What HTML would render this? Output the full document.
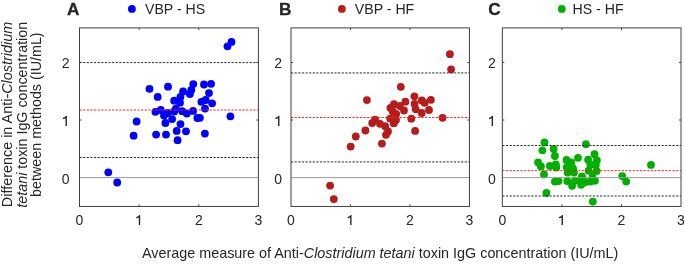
<!DOCTYPE html>
<html><head><meta charset="utf-8"><title>Bland-Altman</title>
<style>
html,body{margin:0;padding:0;background:#fff;}
body{width:685px;height:265px;overflow:hidden;}
svg{display:block;will-change:transform;}
text{font-family:"Liberation Sans",sans-serif;fill:#262626;}
</style></head><body>
<svg width="685" height="265" viewBox="0 0 685 265">
<rect width="685" height="265" fill="#fff"/>
<g font-size="14.2" text-anchor="middle">
<text transform="translate(12.1,114.5) rotate(-90)" textLength="185.35" lengthAdjust="spacingAndGlyphs">Difference in Anti-<tspan font-style="italic">Clostridium</tspan></text>
<text transform="translate(26.8,114.75) rotate(-90)" textLength="185.8" lengthAdjust="spacingAndGlyphs"><tspan font-style="italic">tetani</tspan> toxin IgG concentration</text>
<text transform="translate(41.2,114.65) rotate(-90)" textLength="164.55" lengthAdjust="spacingAndGlyphs">between methods (IU/mL)</text>
<text x="380.15" y="257.8" textLength="476.3" lengthAdjust="spacingAndGlyphs">Average measure of Anti-<tspan font-style="italic">Clostridium tetani</tspan> toxin IgG concentration (IU/mL)</text>
</g>
<g>
<text x="66.9" y="15.4" font-size="17.2" font-weight="bold" stroke="#262626" stroke-width="0.3">A</text>
<circle cx="131.9" cy="8.9" r="3.9" fill="#0000ff"/>
<text x="145.0" y="14.3" font-size="14.15">VBP - HS</text>
<g fill="#0000ff">
<circle cx="231.5" cy="41.9" r="3.9"/><circle cx="227.5" cy="46.3" r="3.9"/><circle cx="149.5" cy="88.8" r="3.9"/><circle cx="168.0" cy="86.7" r="3.9"/><circle cx="157.7" cy="96.9" r="3.9"/><circle cx="193.3" cy="84.1" r="3.9"/><circle cx="191.3" cy="90.0" r="3.9"/><circle cx="189.9" cy="94.0" r="3.9"/><circle cx="183.1" cy="91.4" r="3.9"/><circle cx="180.4" cy="97.0" r="3.9"/><circle cx="174.2" cy="100.7" r="3.9"/><circle cx="180.0" cy="102.7" r="3.9"/><circle cx="204.0" cy="84.5" r="3.9"/><circle cx="211.1" cy="83.8" r="3.9"/><circle cx="209.0" cy="93.1" r="3.9"/><circle cx="201.4" cy="101.8" r="3.9"/><circle cx="205.7" cy="100.0" r="3.9"/><circle cx="212.1" cy="103.3" r="3.9"/><circle cx="205.0" cy="108.6" r="3.9"/><circle cx="175.9" cy="108.6" r="3.9"/><circle cx="182.2" cy="111.2" r="3.9"/><circle cx="186.8" cy="113.5" r="3.9"/><circle cx="193.1" cy="110.9" r="3.9"/><circle cx="197.4" cy="118.0" r="3.9"/><circle cx="155.4" cy="111.8" r="3.9"/><circle cx="160.8" cy="110.0" r="3.9"/><circle cx="164.0" cy="115.5" r="3.9"/><circle cx="167.6" cy="113.0" r="3.9"/><circle cx="172.1" cy="119.1" r="3.9"/><circle cx="136.6" cy="121.5" r="3.9"/><circle cx="133.6" cy="135.7" r="3.9"/><circle cx="156.1" cy="134.6" r="3.9"/><circle cx="166.0" cy="134.6" r="3.9"/><circle cx="165.4" cy="123.0" r="3.9"/><circle cx="180.5" cy="124.1" r="3.9"/><circle cx="176.7" cy="130.9" r="3.9"/><circle cx="186.0" cy="131.3" r="3.9"/><circle cx="177.6" cy="140.2" r="3.9"/><circle cx="204.9" cy="133.6" r="3.9"/><circle cx="230.4" cy="116.3" r="3.9"/><circle cx="108.3" cy="172.3" r="3.9"/><circle cx="117.2" cy="182.5" r="3.9"/><circle cx="199.9" cy="117.8" r="3.9"/><circle cx="174.2" cy="111.4" r="3.9"/>
</g>
<line x1="79.50" x2="258.40" y1="177.60" y2="177.60" stroke="#9a9a9a" stroke-width="1"/>
<g stroke-width="1" stroke-dasharray="2.2 1.42" fill="none">
<line x1="79.50" x2="258.40" y1="62.60" y2="62.60" stroke="#2a2a2a"/>
<line x1="79.50" x2="258.40" y1="110.00" y2="110.00" stroke="#ff1e1e"/>
<line x1="79.50" x2="258.40" y1="157.50" y2="157.50" stroke="#2a2a2a"/>
</g>
<g stroke="#404040" stroke-width="1" fill="none">
<rect x="79.50" y="27.90" width="178.90" height="178.55"/>
<path d="M139.13 206.45v-2M139.13 27.90v2M198.77 206.45v-2M198.77 27.90v2M79.50 120.00h2M258.40 120.00h-2M79.50 62.40h2M258.40 62.40h-2"/>
</g>
<g font-size="14">
<text x="79.5" y="225.2" text-anchor="middle">0</text><path fill="#262626" d="M138.78 225.00h1.4v-10.1h-0.8q-0.8 1.5 -3.2 2.0v1.4q1.7 -0.3 2.6 -0.9z"/><text x="198.8" y="225.2" text-anchor="middle">2</text><text x="258.4" y="225.2" text-anchor="middle">3</text><text x="69.6" y="184.0" text-anchor="end">0</text><path fill="#262626" d="M65.50 125.95h1.4v-10.1h-0.8q-0.8 1.5 -3.2 2.0v1.4q1.7 -0.3 2.6 -0.9z"/><text x="69.6" y="68.2" text-anchor="end">2</text>
</g>
</g>
<g>
<text x="279.0" y="15.4" font-size="17.2" font-weight="bold" stroke="#262626" stroke-width="0.3">B</text>
<circle cx="341.9" cy="8.9" r="3.9" fill="#b71c1c"/>
<text x="354.8" y="14.3" font-size="14.15">VBP - HF</text>
<g fill="#b71c1c">
<circle cx="449.9" cy="54.2" r="3.9"/><circle cx="451.1" cy="69.3" r="3.9"/><circle cx="400.8" cy="86.8" r="3.9"/><circle cx="366.9" cy="100.1" r="3.9"/><circle cx="414.4" cy="96.3" r="3.9"/><circle cx="414.6" cy="104.0" r="3.9"/><circle cx="405.4" cy="101.7" r="3.9"/><circle cx="394.0" cy="104.2" r="3.9"/><circle cx="390.4" cy="107.8" r="3.9"/><circle cx="399.9" cy="106.0" r="3.9"/><circle cx="404.0" cy="110.5" r="3.9"/><circle cx="392.7" cy="111.4" r="3.9"/><circle cx="396.2" cy="113.8" r="3.9"/><circle cx="390.2" cy="118.6" r="3.9"/><circle cx="393.8" cy="123.3" r="3.9"/><circle cx="415.7" cy="109.3" r="3.9"/><circle cx="421.8" cy="100.4" r="3.9"/><circle cx="424.6" cy="102.8" r="3.9"/><circle cx="430.9" cy="99.8" r="3.9"/><circle cx="421.7" cy="113.0" r="3.9"/><circle cx="429.0" cy="110.0" r="3.9"/><circle cx="411.3" cy="118.7" r="3.9"/><circle cx="415.1" cy="130.9" r="3.9"/><circle cx="375.0" cy="119.7" r="3.9"/><circle cx="372.2" cy="123.1" r="3.9"/><circle cx="380.0" cy="123.8" r="3.9"/><circle cx="385.2" cy="126.2" r="3.9"/><circle cx="388.0" cy="131.5" r="3.9"/><circle cx="386.0" cy="134.8" r="3.9"/><circle cx="365.4" cy="130.5" r="3.9"/><circle cx="355.8" cy="136.5" r="3.9"/><circle cx="350.7" cy="146.6" r="3.9"/><circle cx="381.9" cy="143.6" r="3.9"/><circle cx="330.1" cy="185.6" r="3.9"/><circle cx="333.8" cy="199.1" r="3.9"/><circle cx="396.0" cy="120.0" r="3.9"/><circle cx="442.6" cy="117.8" r="3.9"/>
</g>
<line x1="291.00" x2="469.45" y1="177.60" y2="177.60" stroke="#9a9a9a" stroke-width="1"/>
<g stroke-width="1" stroke-dasharray="2.2 1.42" fill="none">
<line x1="291.00" x2="469.45" y1="72.95" y2="72.95" stroke="#2a2a2a"/>
<line x1="291.00" x2="469.45" y1="117.50" y2="117.50" stroke="#ff1e1e"/>
<line x1="291.00" x2="469.45" y1="161.95" y2="161.95" stroke="#2a2a2a"/>
</g>
<g stroke="#404040" stroke-width="1" fill="none">
<rect x="291.00" y="27.90" width="178.45" height="178.55"/>
<path d="M350.48 206.45v-2M350.48 27.90v2M409.97 206.45v-2M409.97 27.90v2M291.00 120.00h2M469.45 120.00h-2M291.00 62.40h2M469.45 62.40h-2"/>
</g>
<g font-size="14">
<text x="291.0" y="225.2" text-anchor="middle">0</text><path fill="#262626" d="M350.13 225.00h1.4v-10.1h-0.8q-0.8 1.5 -3.2 2.0v1.4q1.7 -0.3 2.6 -0.9z"/><text x="410.0" y="225.2" text-anchor="middle">2</text><text x="469.4" y="225.2" text-anchor="middle">3</text><text x="282.1" y="184.0" text-anchor="end">0</text><path fill="#262626" d="M278.05 125.95h1.4v-10.1h-0.8q-0.8 1.5 -3.2 2.0v1.4q1.7 -0.3 2.6 -0.9z"/><text x="282.1" y="68.2" text-anchor="end">2</text>
</g>
</g>
<g>
<text x="488.3" y="15.4" font-size="17.2" font-weight="bold" stroke="#262626" stroke-width="0.3">C</text>
<circle cx="561.8" cy="8.9" r="3.9" fill="#00af00"/>
<text x="572.5" y="14.3" font-size="14.15">HS - HF</text>
<g fill="#00af00">
<circle cx="544.5" cy="142.3" r="3.9"/><circle cx="542.4" cy="150.3" r="3.9"/><circle cx="553.6" cy="149.0" r="3.9"/><circle cx="554.9" cy="156.0" r="3.9"/><circle cx="578.0" cy="157.8" r="3.9"/><circle cx="566.5" cy="160.0" r="3.9"/><circle cx="585.9" cy="144.2" r="3.9"/><circle cx="538.1" cy="162.3" r="3.9"/><circle cx="540.9" cy="166.4" r="3.9"/><circle cx="544.0" cy="174.4" r="3.9"/><circle cx="549.9" cy="166.0" r="3.9"/><circle cx="555.8" cy="164.3" r="3.9"/><circle cx="556.3" cy="167.4" r="3.9"/><circle cx="571.2" cy="162.4" r="3.9"/><circle cx="566.7" cy="167.4" r="3.9"/><circle cx="573.0" cy="168.5" r="3.9"/><circle cx="567.6" cy="172.5" r="3.9"/><circle cx="574.0" cy="172.5" r="3.9"/><circle cx="582.0" cy="176.5" r="3.9"/><circle cx="554.9" cy="181.6" r="3.9"/><circle cx="558.5" cy="181.1" r="3.9"/><circle cx="567.2" cy="181.1" r="3.9"/><circle cx="572.1" cy="185.8" r="3.9"/><circle cx="574.9" cy="180.7" r="3.9"/><circle cx="581.2" cy="178.9" r="3.9"/><circle cx="581.2" cy="184.8" r="3.9"/><circle cx="546.4" cy="193.0" r="3.9"/><circle cx="594.5" cy="154.2" r="3.9"/><circle cx="588.1" cy="159.7" r="3.9"/><circle cx="596.9" cy="160.3" r="3.9"/><circle cx="595.8" cy="165.1" r="3.9"/><circle cx="590.4" cy="164.7" r="3.9"/><circle cx="588.6" cy="170.7" r="3.9"/><circle cx="596.7" cy="171.1" r="3.9"/><circle cx="592.5" cy="174.5" r="3.9"/><circle cx="622.2" cy="176.1" r="3.9"/><circle cx="626.2" cy="181.6" r="3.9"/><circle cx="594.9" cy="180.7" r="3.9"/><circle cx="590.4" cy="181.6" r="3.9"/><circle cx="585.4" cy="182.0" r="3.9"/><circle cx="651.0" cy="164.9" r="3.9"/><circle cx="592.8" cy="201.6" r="3.9"/>
</g>
<line x1="502.35" x2="681.00" y1="177.60" y2="177.60" stroke="#9a9a9a" stroke-width="1"/>
<g stroke-width="1" stroke-dasharray="2.2 1.42" fill="none">
<line x1="502.35" x2="681.00" y1="145.50" y2="145.50" stroke="#2a2a2a"/>
<line x1="502.35" x2="681.00" y1="170.65" y2="170.65" stroke="#ff1e1e"/>
<line x1="502.35" x2="681.00" y1="196.00" y2="196.00" stroke="#2a2a2a"/>
</g>
<g stroke="#404040" stroke-width="1" fill="none">
<rect x="502.35" y="27.90" width="178.65" height="178.55"/>
<path d="M561.90 206.45v-2M561.90 27.90v2M621.45 206.45v-2M621.45 27.90v2M502.35 120.00h2M681.00 120.00h-2M502.35 62.40h2M681.00 62.40h-2"/>
</g>
<g font-size="14">
<text x="502.4" y="225.2" text-anchor="middle">0</text><path fill="#262626" d="M561.55 225.00h1.4v-10.1h-0.8q-0.8 1.5 -3.2 2.0v1.4q1.7 -0.3 2.6 -0.9z"/><text x="621.5" y="225.2" text-anchor="middle">2</text><text x="681.0" y="225.2" text-anchor="middle">3</text><text x="495.8" y="184.0" text-anchor="end">0</text><path fill="#262626" d="M491.65 125.95h1.4v-10.1h-0.8q-0.8 1.5 -3.2 2.0v1.4q1.7 -0.3 2.6 -0.9z"/><text x="495.8" y="68.2" text-anchor="end">2</text>
</g>
</g>
</svg>
</body></html>
